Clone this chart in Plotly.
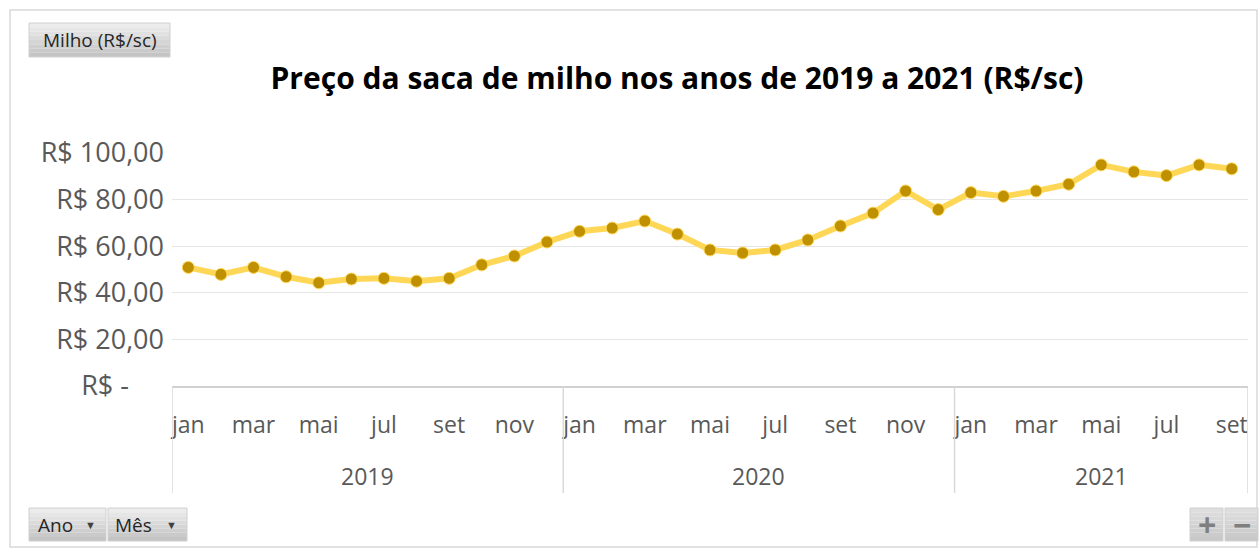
import plotly.graph_objects as go

# ---- data ----
years = ["2019", "2020", "2021"]
months = ["jan", "fev", "mar", "abr", "mai", "jun", "jul", "ago", "set", "out", "nov", "dez"]
n_months_per_year = [12, 12, 9]
prices = [
    50.9, 47.9, 50.9, 46.9, 44.3, 45.9, 46.2, 45.0, 46.2, 52.0, 55.8, 61.8,   # 2019
    66.4, 67.8, 70.8, 65.2, 58.4, 57.1, 58.4, 62.7, 68.7, 74.2, 83.7, 75.7,   # 2020
    83.0, 81.4, 83.7, 86.6, 94.9, 91.9, 90.3, 94.9, 93.2,                     # 2021
]
y_ticks = [0, 20, 40, 60, 80, 100]
y_tick_text = ["R$ -\u00a0\u00a0\u00a0\u00a0\u00a0", "R$ 20,00", "R$ 40,00", "R$ 60,00", "R$ 80,00", "R$ 100,00"]
title_text = "Preço da saca de milho nos anos de 2019 a 2021 (R$/sc)"

# ---- derived category structure ----
cat_labels = []
for y, n in zip(years, n_months_per_year):
    for m in months[:n]:
        cat_labels.append(m)
x_idx = list(range(len(prices)))
tick_idx = [i for i in x_idx if months.index(cat_labels[i]) % 2 == 0]
tick_txt = [cat_labels[i] for i in tick_idx]

W, H = 1260, 549
L, R, T, B = 172, 12, 153, 163
PW, PH = W - L - R, H - T - B

def px(x):
    return (x - L) / PW

def py(y):
    return (H - B - y) / PH

FONT = "Open Sans, sans-serif"
GRAY = "#595959"

fig = go.Figure()
fig.add_trace(go.Scatter(
    x=x_idx, y=prices, mode="lines+markers",
    line=dict(color="#FFD756", width=6),
    marker=dict(color="#BF9000", size=12, line=dict(color="#FFD756", width=1)),
    hoverinfo="y", showlegend=False,
))

shapes = []
annotations = []
# outer chart border
shapes.append(dict(type="rect", xref="paper", yref="paper",
                   x0=px(10), x1=px(1257), y0=py(547), y1=py(10),
                   line=dict(color="#D9D9D9", width=1.5), fillcolor="rgba(0,0,0,0)", layer="below"))
# year group dividers (computed from data structure)
bounds = [-0.5]
acc = -0.5
for n in n_months_per_year:
    acc += n
    bounds.append(acc)
for b in bounds:
    shapes.append(dict(type="line", xref="x", yref="paper", x0=b, x1=b,
                       y0=0, y1=py(493), line=dict(color="#D9D9D9", width=1.5)))

start = 0
for y, n in zip(years, n_months_per_year):
    annotations.append(dict(x=start + (n - 1) / 2, y=py(476), xref="x", yref="paper",
                            text=y, showarrow=False, font=dict(family=FONT, size=23, color=GRAY),
                            xanchor="center", yanchor="middle"))
    start += n

# pivot field buttons (simple vertical gradient)
def button_box(x0, x1, y0, y1, top=(236, 236, 236), bot=(196, 196, 196), strips=8):
    h = (y1 - y0) / strips
    for k in range(strips):
        t = k / (strips - 1)
        c = tuple(int(round(top[j] + (bot[j] - top[j]) * t)) for j in range(3))
        shapes.append(dict(type="rect", xref="paper", yref="paper",
                           x0=px(x0), x1=px(x1), y0=py(y0 + (k + 1) * h), y1=py(y0 + k * h),
                           line=dict(width=0), fillcolor="rgb(%d,%d,%d)" % c))
    shapes.append(dict(type="rect", xref="paper", yref="paper",
                       x0=px(x0), x1=px(x1), y0=py(y1), y1=py(y0),
                       line=dict(color="#D0D0D0", width=1), fillcolor="rgba(0,0,0,0)"))

def label(xc, yc, text, size, color="#262626"):
    annotations.append(dict(x=px(xc), y=py(yc), xref="paper", yref="paper",
                            text=text, showarrow=False, font=dict(family=FONT, size=size, color=color),
                            xanchor="center", yanchor="middle"))

button_box(29, 170, 23, 57)
label(99.5, 40, "Milho (R$/sc)", 19)
button_box(29, 106, 508, 541)
label(55, 524.5, "Ano", 19)
label(90, 524.5, "▼", 11, "#404040")
button_box(108, 187, 508, 541)
label(133, 524.5, "Mês", 19)
label(171, 524.5, "▼", 11, "#404040")
button_box(1190, 1223, 508, 541, top=(222, 222, 222), bot=(200, 200, 200))
label(1206.5, 524.5, "<b>+</b>", 32, "#7F7F7F")
button_box(1225, 1258, 508, 541, top=(222, 222, 222), bot=(200, 200, 200))
label(1241.5, 524.5, "<b>−</b>", 32, "#7F7F7F")

fig.update_layout(
    width=W, height=H,
    margin=dict(l=L, r=R, t=T, b=B),
    paper_bgcolor="white", plot_bgcolor="white",
    title=dict(text="<b>" + title_text + "</b>", x=677 / W, xanchor="center",
               y=1 - 78 / H, yanchor="middle",
               font=dict(family=FONT, size=30, color="#000000")),
    xaxis=dict(range=[-0.5, len(prices) - 0.5], tickvals=tick_idx, ticktext=tick_txt,
               showgrid=False, zeroline=False, showline=True, linecolor="#D0D0D0", linewidth=1.5,
               ticks="", ticklabelstandoff=18,
               tickfont=dict(family=FONT, size=23, color=GRAY), fixedrange=True),
    yaxis=dict(range=[0, 100], tickvals=y_ticks, ticktext=y_tick_text,
               showgrid=True, gridcolor="#E6E6E6", gridwidth=1, zeroline=False,
               showline=False, ticks="", ticklabelstandoff=7,
               tickfont=dict(family=FONT, size=27, color=GRAY), fixedrange=True),
    shapes=shapes, annotations=annotations,
    font=dict(family=FONT),
)

fig.write_html("out.html")
